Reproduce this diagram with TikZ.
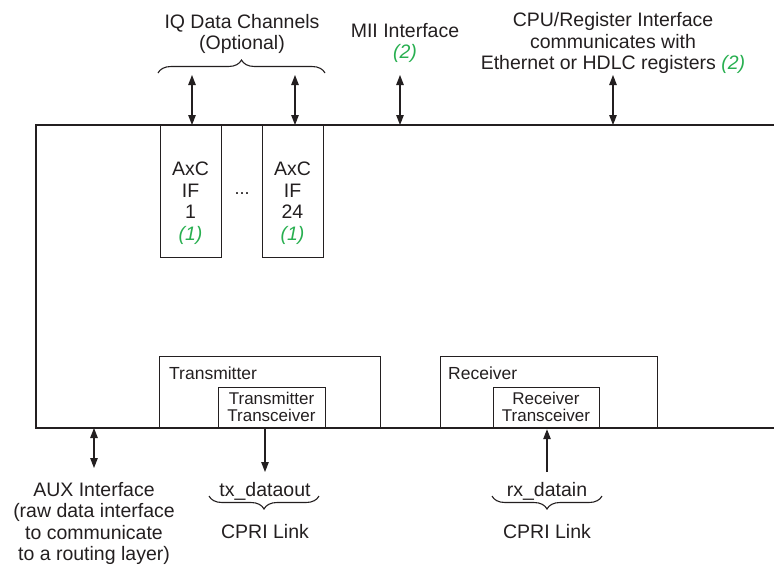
\documentclass[tikz,border=0pt]{standalone}
\usepackage{fontspec}
\setmainfont{Liberation Sans}
\usetikzlibrary{arrows.meta,decorations.pathreplacing}
\definecolor{ink}{RGB}{35,31,32}
\definecolor{notegreen}{RGB}{40,175,80}
\newcommand{\fnote}[1]{{\color{notegreen}\itshape #1}}

\begin{document}
\begin{tikzpicture}[x=1pt,y=-1pt,
  every node/.style={inner sep=0pt, text=ink},
  lbl/.style={font=\fontsize{19.5}{21.5}\selectfont, align=center, anchor=north},
  small/.style={font=\fontsize{17}{16.5}\selectfont, align=center, anchor=north},
  blocktitle/.style={font=\fontsize{17.5}{18}\selectfont, anchor=base west},
  blk/.style={draw=ink, line width=1.2pt, anchor=north west},
  link/.style={draw=ink, line width=1.2pt},
  both/.style={link, {Triangle[length=10pt,width=7.5pt]}-{Triangle[length=10pt,width=7.5pt]}},
  one/.style={link, -{Triangle[length=10pt,width=7.5pt]}},
  brc/.style={draw=ink, line width=1.1pt, decorate, decoration={brace, amplitude=13pt}}
]
\useasboundingbox (0,0) rectangle (774,566);

% main core outline, open towards the right
\draw[link, line width=1.4pt] (774,125) -- (36,125) -- (36,428) -- (774,428);

% AxC interfaces
\node[blk, minimum width=61pt, minimum height=132pt] (ax1) at (160,125) {};
\node[blk, minimum width=61pt, minimum height=132pt] (ax24) at (262,125) {};
\node[lbl] (ax1t) at (190.5,162) {AxC\\IF\\1\\\fnote{(1)}};
\node[lbl] (ax24t) at (292.5,162) {AxC\\IF\\24\\\fnote{(1)}};
\node[font=\fontsize{18}{18}\selectfont, anchor=base] (dots) at (242,194) {...};

% top labels
\node[lbl] (iq) at (242,14) {IQ Data Channels\\(Optional)};
\node[lbl] (mii) at (405,23) {MII Interface\\\fnote{(2)}};
\node[lbl] (cpu) at (613,12.5) {CPU/Register Interface\\communicates with\\Ethernet or HDLC registers \fnote{(2)}};
\draw[brc] (158,73) -- (325,73);

% top connectors
\coordinate (iq1) at (192,75);
\coordinate (iq24) at (295,75);
\coordinate (miia) at (400,75);
\coordinate (cpua) at (613,75);
\draw[both] (iq1) -- (iq1 |- ax1.north);
\draw[both] (iq24) -- (iq24 |- ax24.north);
\draw[both] (miia) -- (400,125);
\draw[both] (cpua) -- (613,125);

% transmitter and receiver
\node[blk, minimum width=221pt, minimum height=72pt] (tx) at (159,356) {};
\node[blocktitle] (txl) at (169,379) {Transmitter};
\node[blk, minimum width=107pt, minimum height=41pt] (txc) at (218,387) {};
\node[small] (txct) at (271.5,392) {Transmitter\\Transceiver};

\node[blk, minimum width=217pt, minimum height=72pt] (rx) at (440,356) {};
\node[blocktitle] (rxl) at (448,379) {Receiver};
\node[blk, minimum width=106pt, minimum height=41pt] (rxc) at (493,387) {};
\node[small] (rxct) at (546,392) {Receiver\\Transceiver};

% bottom labels
\node[lbl] (aux) at (94,482) {AUX Interface\\(raw data interface\\to communicate\\to a routing layer)};
\node[lbl] (txd) at (265,482) {tx\_dataout};
\node[lbl] (rxd) at (547,482) {rx\_datain};
\draw[brc] (319,496) -- (209,496);
\draw[brc] (602,496) -- (492,496);
\node[lbl] (cpri1) at (265,524) {CPRI Link};
\node[lbl] (cpri2) at (547,524) {CPRI Link};

% bottom connectors
\coordinate (auxb) at (94,428);
\draw[both] (auxb) -- ([yshift=14pt]aux.north);
\draw[one] (txc.south -| txd) -- ([yshift=10pt]txd.north);
\draw[one] ([yshift=10pt]rxd.north) -- (rxd |- rxc.south);
\end{tikzpicture}
\end{document}
